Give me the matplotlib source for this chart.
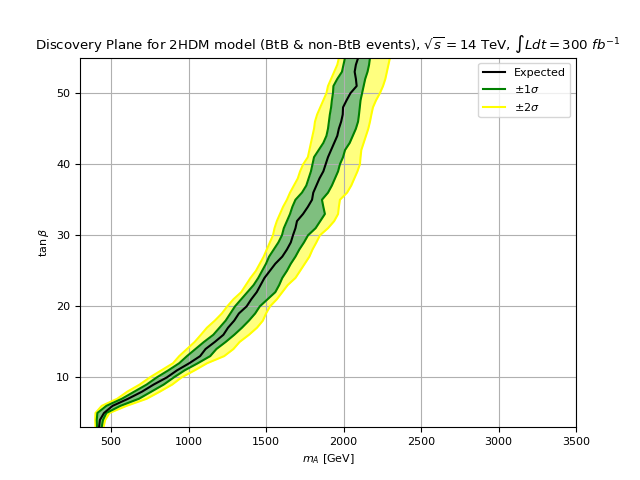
import numpy as np
import matplotlib
matplotlib.use("Agg")
import matplotlib.pyplot as plt

plt.rcParams["font.size"] = 8

# tan(beta) levels and m_A [GeV] of each contour
tanb = [3, 4, 5, 6, 7, 8, 9, 10, 11, 12, 13, 14, 15, 16, 17, 18, 19, 20, 21, 22,
        23, 24, 25, 26, 27, 28, 29, 30, 31, 32, 33, 34, 35, 36, 37, 38, 39, 40,
        41, 42, 43, 44, 45, 46, 47, 48, 49, 50, 51, 52, 53, 54, 55]

expected = [423, 428, 455, 510, 610, 700, 775, 860, 926, 1005, 1075, 1110, 1170,
            1225, 1255, 1295, 1325, 1375, 1405, 1440, 1465, 1490, 1525, 1560, 1605,
            1635, 1660, 1674, 1690, 1700, 1739, 1770, 1797, 1805, 1825, 1845, 1870,
            1885, 1900, 1920, 1940, 1960, 1970, 1985, 1995, 1997, 2020, 2045, 2085,
            2080, 2072, 2080, 2095]

lo1 = [410, 408, 412, 470, 570, 650, 730, 795, 870, 940, 990, 1045, 1100, 1160,
       1200, 1240, 1270, 1300, 1340, 1380, 1420, 1450, 1475, 1500, 1520, 1550,
       1580, 1603, 1615, 1635, 1655, 1670, 1690, 1732, 1760, 1775, 1790, 1800,
       1810, 1840, 1870, 1890, 1900, 1906, 1912, 1920, 1925, 1932, 1935, 1960,
       1990, 2000, 2010]

hi1 = [440, 448, 470, 560, 680, 760, 840, 905, 975, 1060, 1140, 1180, 1240, 1295,
       1345, 1390, 1430, 1460, 1510, 1560, 1585, 1605, 1635, 1660, 1690, 1715,
       1745, 1771, 1820, 1850, 1880, 1870, 1861, 1900, 1925, 1945, 1965, 1977,
       1997, 2010, 2040, 2060, 2080, 2094, 2100, 2105, 2110, 2120, 2130, 2140,
       2155, 2165, 2171]

lo2 = [400, 398, 400, 440, 540, 605, 685, 750, 825, 900, 940, 990, 1040, 1080,
       1119, 1170, 1215, 1250, 1290, 1340, 1370, 1400, 1435, 1460, 1485, 1505,
       1525, 1545, 1555, 1570, 1590, 1610, 1635, 1655, 1680, 1705, 1720, 1740,
       1770, 1780, 1790, 1800, 1810, 1816, 1830, 1850, 1870, 1890, 1900, 1920,
       1940, 1960, 1971]

hi2 = [452, 462, 490, 600, 730, 815, 895, 955, 1040, 1120, 1230, 1290, 1330, 1390,
       1442, 1480, 1500, 1526, 1570, 1605, 1640, 1690, 1720, 1750, 1780, 1800,
       1825, 1848, 1900, 1940, 1965, 1970, 1977, 2023, 2050, 2070, 2090, 2106,
       2110, 2115, 2130, 2145, 2160, 2171, 2180, 2190, 2210, 2235, 2255, 2270,
       2280, 2290, 2300]

fig, ax = plt.subplots(figsize=(6.4, 4.8), dpi=100)

# bands
ax.fill_betweenx(tanb, lo2, lo1, color="yellow", alpha=0.5, linewidth=0)
ax.fill_betweenx(tanb, hi1, hi2, color="yellow", alpha=0.5, linewidth=0)
ax.fill_betweenx(tanb, lo1, hi1, color="green", alpha=0.5, linewidth=0)

# contour lines
ax.plot(lo2, tanb, color="yellow")
ax.plot(hi2, tanb, color="yellow")
ax.plot(lo1, tanb, color="green")
ax.plot(hi1, tanb, color="green")
ax.plot(expected, tanb, color="black")

# legend proxies
ax.plot([], [], color="black", label="Expected")
ax.plot([], [], color="green", label=r"$\pm 1\sigma$")
ax.plot([], [], color="yellow", label=r"$\pm 2\sigma$")
ax.legend(loc="upper right")

ax.set_xlim(300, 3500)
ax.set_ylim(3, 55)
ax.grid(True)
ax.set_xlabel(r"$m_A$ [GeV]")
ax.set_ylabel(r"$\tan\beta$")
ax.set_title(r"Discovery Plane for 2HDM model (BtB & non-BtB events), "
             r"$\sqrt{s} = 14$ TeV, $\int Ldt = 300\ fb^{-1}$", fontsize=9.6)

fig.savefig("out.png", dpi=100)
